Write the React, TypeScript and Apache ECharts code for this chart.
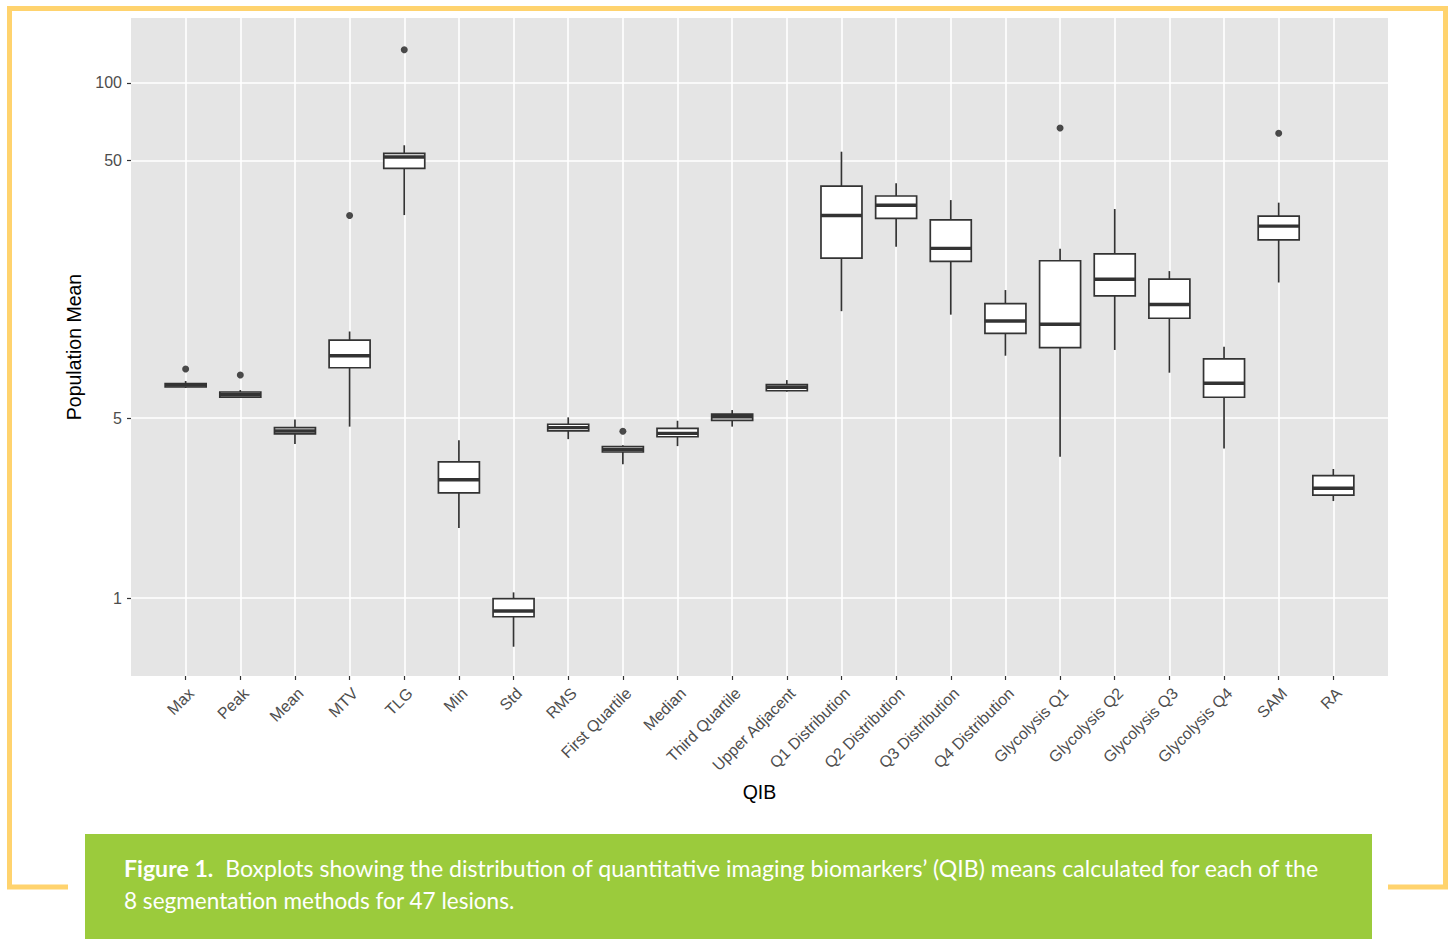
import React, { useEffect, useRef } from 'react';
import * as echarts from 'echarts';

const categories = [
  'Max', 'Peak', 'Mean', 'MTV', 'TLG', 'Min', 'Std', 'RMS', 'First Quartile', 'Median',
  'Third Quartile', 'Upper Adjacent', 'Q1 Distribution', 'Q2 Distribution', 'Q3 Distribution',
  'Q4 Distribution', 'Glycolysis Q1', 'Glycolysis Q2', 'Glycolysis Q3', 'Glycolysis Q4', 'SAM', 'RA',
];

const lowerWhisker = [6.54, 6.0, 3.96, 4.63, 30.7, 1.87, 0.647, 4.14, 3.31, 3.89, 4.63, 6.33, 13.0, 23.1, 12.6, 8.73, 3.54, 9.19, 7.5, 3.81, 16.8, 2.38];
const firstQuartile = [6.6, 6.03, 4.34, 7.84, 46.6, 2.56, 0.846, 4.46, 3.69, 4.23, 4.9, 6.38, 20.9, 29.8, 20.3, 10.66, 9.38, 14.9, 12.2, 6.02, 24.6, 2.51];
const medianValue = [6.72, 6.17, 4.45, 8.73, 51.6, 2.88, 0.89, 4.59, 3.77, 4.36, 5.06, 6.58, 30.6, 33.5, 22.8, 11.9, 11.56, 17.3, 13.8, 6.82, 27.8, 2.67];
const thirdQuartile = [6.81, 6.31, 4.59, 10.04, 53.3, 3.38, 0.994, 4.73, 3.87, 4.56, 5.18, 6.74, 39.8, 36.4, 29.4, 13.9, 20.4, 21.7, 17.3, 8.48, 30.4, 2.99];
const upperWhisker = [6.96, 6.42, 4.94, 10.84, 57.3, 4.1, 1.052, 5.03, 3.92, 4.88, 5.37, 7.02, 54.1, 40.8, 35.1, 15.7, 22.7, 32.4, 18.6, 9.46, 34.3, 3.17];

const outlierCategory = ['Max', 'Peak', 'MTV', 'TLG', 'First Quartile', 'Glycolysis Q1', 'SAM'];
const outlierValue = [7.75, 7.35, 30.6, 134.7, 4.44, 66.9, 63.8];

const yTickValues = [1, 5, 50, 100];

const captionBold = 'Figure 1.';
const captionLine1 = '  Boxplots showing the distribution of quantitative imaging biomarkers\u2019 (QIB) means calculated for each of the';
const captionLine2 = '8 segmentation methods for 47 lesions.';

const FONT = "'Liberation Sans', Arial, Helvetica, sans-serif";
const CAP_FONT = 'Lato, "Open Sans", sans-serif';
const CAP_SIZE = 23;

function measure(text: string, font: string): number {
  const c = document.createElement('canvas');
  const ctx = c.getContext('2d');
  if (!ctx) return text.length * 10;
  ctx.font = font;
  return ctx.measureText(text).width;
}

export default function App() {
  const ref = useRef<HTMLDivElement>(null);

  useEffect(() => {
    if (!ref.current) return;
    const chart = echarts.init(ref.current, undefined, { renderer: 'svg' });

    const xData = [' ', ...categories, '  '];
    const boxData = categories.map((_, i) => [
      i + 1,
      lowerWhisker[i],
      firstQuartile[i],
      medianValue[i],
      thirdQuartile[i],
      upperWhisker[i],
    ]);
    const outlierData = outlierCategory.map((c, i) => [categories.indexOf(c) + 1, outlierValue[i]]);

    const boldW = measure(captionBold, `bold ${CAP_SIZE}px ${CAP_FONT}`);
    const line1W = measure(captionLine1, `${CAP_SIZE}px ${CAP_FONT}`);
    const scale1 = 1196 / (boldW + line1W);
    const line2W = measure(captionLine2, `${CAP_SIZE}px ${CAP_FONT}`);
    const scale2 = 391 / line2W;

    const lastIdx = xData.length - 1;
    const inner = (idx: number) => idx > 0 && idx < lastIdx;

    chart.setOption({
      animation: false,
      backgroundColor: '#ffffff',
      grid: {
        left: 131,
        right: 66,
        top: 18,
        bottom: 263,
        show: true,
        backgroundColor: '#E5E5E5',
        borderWidth: 0,
        containLabel: false,
      },
      xAxis: {
        type: 'category',
        data: xData,
        boundaryGap: false,
        name: 'QIB',
        nameLocation: 'middle',
        nameGap: 106,
        nameTextStyle: { color: '#000', fontSize: 19.5, fontFamily: FONT },
        axisLine: { show: false },
        axisTick: {
          show: true,
          length: 4,
          interval: inner,
          lineStyle: { color: '#333333', width: 1.2 },
        },
        axisLabel: {
          interval: inner,
          rotate: 45,
          margin: 9,
          align: 'right',
          verticalAlign: 'top',
          color: '#4D4D4D',
          fontSize: 16,
          fontFamily: FONT,
        },
        splitLine: {
          show: true,
          interval: inner,
          lineStyle: { color: '#ffffff', width: 1.6 },
        },
      },
      yAxis: {
        type: 'log',
        logBase: 10,
        min: 0.498,
        max: 178.8,
        name: 'Population Mean',
        nameLocation: 'middle',
        nameGap: 41,
        nameTextStyle: { color: '#000', fontSize: 19.5, fontFamily: FONT },
        axisLine: { show: false },
        axisTick: {
          show: true,
          length: 4,
          customValues: yTickValues,
          lineStyle: { color: '#333333', width: 1.2 },
        },
        axisLabel: {
          customValues: yTickValues,
          color: '#4D4D4D',
          fontSize: 16,
          fontFamily: FONT,
          margin: 9,
        },
        splitLine: { show: true, lineStyle: { color: '#ffffff', width: 1.6 } },
        minorSplitLine: { show: false },
      },
      series: [
        {
          type: 'custom',
          name: 'QIB boxplot',
          data: boxData,
          encode: { x: 0, y: [1, 2, 3, 4, 5] },
          renderItem: (params: any, api: any) => {
            const x = api.value(0);
            const lo = api.coord([x, api.value(1)]);
            const b1 = api.coord([x, api.value(2)]);
            const md = api.coord([x, api.value(3)]);
            const b3 = api.coord([x, api.value(4)]);
            const hi = api.coord([x, api.value(5)]);
            const w = api.size([1, 0])[0] * 0.75;
            const stroke = '#333333';
            return {
              type: 'group',
              children: [
                { type: 'line', shape: { x1: hi[0], y1: hi[1], x2: b3[0], y2: b3[1] }, style: { stroke, lineWidth: 1.7 } },
                { type: 'line', shape: { x1: b1[0], y1: b1[1], x2: lo[0], y2: lo[1] }, style: { stroke, lineWidth: 1.7 } },
                {
                  type: 'rect',
                  shape: { x: md[0] - w / 2, y: b3[1], width: w, height: b1[1] - b3[1] },
                  style: { fill: '#ffffff', stroke, lineWidth: 1.7 },
                },
                {
                  type: 'line',
                  shape: { x1: md[0] - w / 2, y1: md[1], x2: md[0] + w / 2, y2: md[1] },
                  style: { stroke, lineWidth: 3.4 },
                },
              ],
            };
          },
        },
        {
          type: 'scatter',
          name: 'Outliers',
          data: outlierData,
          symbol: 'circle',
          symbolSize: 7,
          itemStyle: { color: '#1F1F1F' },
        },
      ],
      graphic: [
        {
          type: 'rect',
          shape: { x: 9.5, y: 8.5, width: 1436, height: 878.5 },
          style: { fill: 'none', stroke: '#FFD36E', lineWidth: 5 },
          silent: true,
        },
        {
          type: 'rect',
          shape: { x: 68, y: 834, width: 1320, height: 105 },
          style: { fill: '#ffffff' },
          silent: true,
        },
        {
          type: 'rect',
          shape: { x: 85, y: 834, width: 1287, height: 105 },
          style: { fill: '#9BCB3C' },
          silent: true,
        },
        {
          type: 'text',
          x: 124,
          y: 868,
          scaleX: scale1,
          style: {
            text: `{b|${captionBold}}${captionLine1}`,
            fill: '#ffffff',
            fontSize: CAP_SIZE,
            fontFamily: CAP_FONT,
            verticalAlign: 'middle',
            rich: {
              b: { fontWeight: 'bold', fontSize: CAP_SIZE, fontFamily: CAP_FONT, fill: '#ffffff' },
            },
          },
          silent: true,
        },
        {
          type: 'text',
          x: 124,
          y: 900,
          scaleX: scale2,
          style: {
            text: captionLine2,
            fill: '#ffffff',
            fontSize: CAP_SIZE,
            fontFamily: CAP_FONT,
            verticalAlign: 'middle',
          },
          silent: true,
        },
      ],
    });

    return () => {
      chart.dispose();
    };
  }, []);

  return (
    <div
      ref={ref}
      style={{ position: 'absolute', left: 0, top: 0, width: 1454, height: 939 }}
    />
  );
}
